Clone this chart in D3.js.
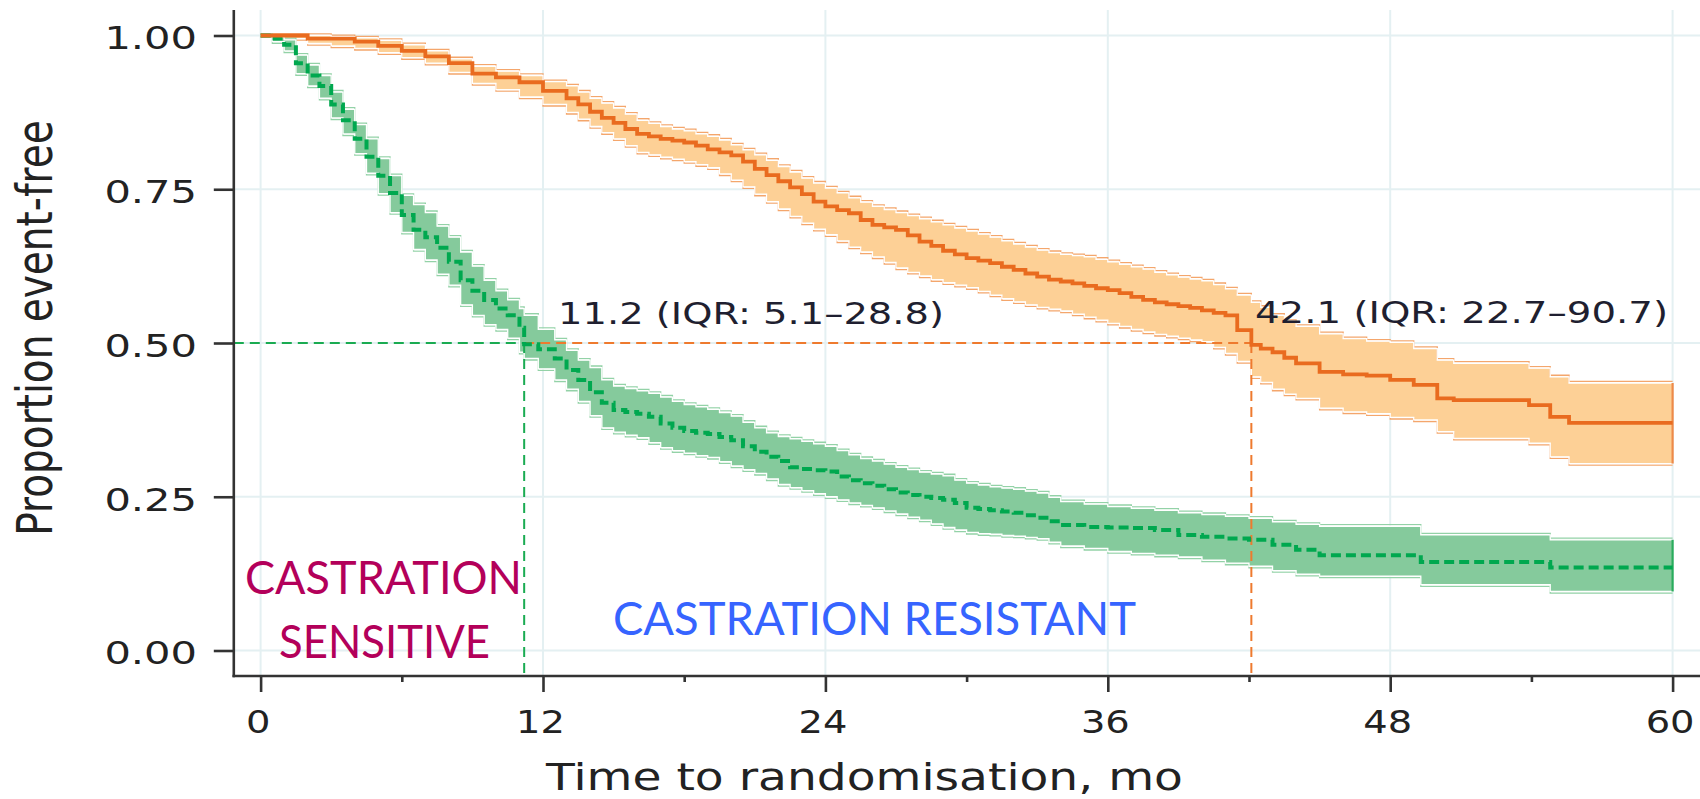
<!DOCTYPE html>
<html>
<head>
<meta charset="utf-8">
<script src="https://cdn.jsdelivr.net/npm/d3@7"></script>
<style>
  html, body { margin: 0; padding: 0; background: #fff; overflow: hidden; }
  svg { display: block; }
</style>
</head>
<body>
<svg id="chart" width="1700" height="799"></svg>
<script>
// Kaplan–Meier curves (proportion event-free) with 95% bands, time in months.

// Group with median 11.2 months (green, dashed)
const greenTime = [
  0, 0.5, 1, 1.5, 2, 2.5, 3, 3.5, 4, 4.5, 5, 5.5, 6, 6.5, 7, 7.5, 8, 8.5, 9, 9.5, 10, 10.5, 11,
  11.2, 11.8, 12.5, 13, 13.5, 14, 14.5, 15, 15.5,
  16, 16.5, 17, 17.5, 18, 18.5, 19, 19.5, 20, 20.5, 21, 21.5, 22, 22.5, 23, 23.5, 24, 24.5, 25,
  25.5, 26, 26.5, 27, 27.5, 28, 28.5, 29, 29.5, 30, 30.5, 31, 31.5, 32, 32.5, 33, 33.5, 34,
  35, 36, 37, 38, 39, 40, 41, 42, 43, 44, 45,
  49.3, 54.8, 60];
const greenEst = [
  1.000, 0.995, 0.985, 0.955, 0.935, 0.918, 0.888, 0.862, 0.832, 0.803, 0.772, 0.744, 0.708, 0.684, 0.672, 0.655, 0.632, 0.602, 0.585, 0.570, 0.556, 0.545, 0.525,
  0.498, 0.490, 0.475, 0.456, 0.440, 0.420, 0.403, 0.391, 0.388,
  0.385, 0.380, 0.369, 0.362, 0.357, 0.354, 0.352, 0.347, 0.342, 0.332, 0.323, 0.315, 0.308, 0.298, 0.295, 0.293, 0.291, 0.283, 0.277,
  0.272, 0.268, 0.262, 0.257, 0.253, 0.250, 0.248, 0.245, 0.240, 0.232, 0.230, 0.228, 0.226, 0.224, 0.220, 0.216, 0.210, 0.204,
  0.201, 0.200, 0.199, 0.196, 0.188, 0.185, 0.182, 0.180, 0.172, 0.164, 0.155,
  0.144, 0.135, 0.135];
const greenHi = [
  1.000, 0.998, 0.993, 0.968, 0.952, 0.935, 0.908, 0.880, 0.855, 0.832, 0.800, 0.772, 0.740, 0.725, 0.712, 0.690, 0.672, 0.648, 0.625, 0.602, 0.585, 0.570, 0.556,
  0.545, 0.522, 0.505, 0.488, 0.472, 0.460, 0.440, 0.430, 0.426,
  0.422, 0.418, 0.412, 0.405, 0.400, 0.396, 0.392, 0.387, 0.381, 0.371, 0.362, 0.354, 0.348, 0.344, 0.340, 0.336, 0.332, 0.325, 0.318,
  0.312, 0.308, 0.303, 0.298, 0.294, 0.290, 0.287, 0.284, 0.277, 0.272, 0.269, 0.266, 0.264, 0.262, 0.259, 0.256, 0.249, 0.242,
  0.238, 0.234, 0.231, 0.228, 0.224, 0.221, 0.218, 0.215, 0.209, 0.205, 0.202,
  0.188, 0.180, 0.180];
const greenLo = [
  1.000, 0.990, 0.975, 0.938, 0.918, 0.898, 0.866, 0.840, 0.808, 0.776, 0.743, 0.712, 0.680, 0.652, 0.635, 0.612, 0.594, 0.562, 0.545, 0.530, 0.522, 0.508, 0.485,
  0.475, 0.458, 0.440, 0.425, 0.405, 0.382, 0.362, 0.355, 0.350,
  0.346, 0.338, 0.330, 0.325, 0.321, 0.317, 0.314, 0.307, 0.300, 0.294, 0.288, 0.279, 0.270, 0.265, 0.260, 0.255, 0.250, 0.245, 0.240,
  0.236, 0.232, 0.227, 0.222, 0.217, 0.212, 0.206, 0.200, 0.196, 0.192, 0.190, 0.189, 0.187, 0.186, 0.184, 0.182, 0.176, 0.170,
  0.166, 0.161, 0.158, 0.155, 0.152, 0.147, 0.142, 0.137, 0.130, 0.124, 0.121,
  0.107, 0.096, 0.096];

// Group with median 42.1 months (orange, solid)
const orangeTime = [
  0, 1, 2, 3, 4, 5, 6, 7, 8, 9, 10, 11, 12,
  13, 13.5, 14, 14.5, 15, 15.5, 16, 16.5, 17, 17.5, 18, 18.5, 19, 19.5, 20, 20.5, 21, 21.5, 22, 22.5,
  23, 23.5, 24, 24.5, 25, 25.5, 26, 26.5, 27, 27.5, 28, 28.5, 29, 29.5, 30, 30.5, 31, 31.5, 32, 32.5,
  33, 33.5, 34, 34.5, 35, 35.5, 36, 36.5, 37, 37.5, 38, 38.5, 39, 39.5, 40, 40.5, 41,
  41.5, 42.1, 42.5, 43, 43.5, 44, 45, 46, 47, 48, 49, 50, 50.7, 53.9, 54.8, 55.6, 60];
const orangeEst = [
  1.000, 1.000, 0.995, 0.995, 0.990, 0.983, 0.975, 0.966, 0.955, 0.938, 0.932, 0.924, 0.910,
  0.898, 0.888, 0.876, 0.866, 0.858, 0.848, 0.840, 0.836, 0.832, 0.829, 0.826, 0.821, 0.815, 0.810, 0.805, 0.795, 0.783, 0.773, 0.763, 0.753,
  0.742, 0.730, 0.722, 0.716, 0.711, 0.700, 0.692, 0.688, 0.684, 0.675, 0.665, 0.658, 0.650, 0.644, 0.638, 0.634, 0.630, 0.624, 0.619, 0.613,
  0.608, 0.603, 0.600, 0.597, 0.593, 0.589, 0.586, 0.581, 0.575, 0.570, 0.566, 0.563, 0.560, 0.557, 0.553, 0.549, 0.545,
  0.521, 0.497, 0.491, 0.485, 0.476, 0.467, 0.453, 0.449, 0.447, 0.440, 0.432, 0.410, 0.407, 0.399, 0.380, 0.370, 0.370];
const orangeHi = [
  1.000, 1.000, 1.000, 0.998, 0.996, 0.992, 0.985, 0.975, 0.962, 0.950, 0.942, 0.935, 0.925,
  0.918, 0.908, 0.898, 0.890, 0.882, 0.872, 0.862, 0.857, 0.852, 0.848, 0.845, 0.840, 0.836, 0.830, 0.822, 0.814, 0.806, 0.797, 0.787, 0.778,
  0.768, 0.760, 0.752, 0.744, 0.736, 0.729, 0.722, 0.717, 0.712, 0.707, 0.702, 0.697, 0.692, 0.687, 0.682, 0.677, 0.672, 0.666, 0.661, 0.656,
  0.651, 0.647, 0.644, 0.642, 0.640, 0.636, 0.632, 0.628, 0.624, 0.620, 0.615, 0.611, 0.607, 0.604, 0.601, 0.595, 0.588,
  0.578, 0.566, 0.558, 0.545, 0.535, 0.527, 0.515, 0.507, 0.503, 0.501, 0.491, 0.472, 0.467, 0.459, 0.445, 0.435, 0.435];
const orangeLo = [
  1.000, 0.995, 0.987, 0.983, 0.979, 0.972, 0.964, 0.955, 0.940, 0.922, 0.912, 0.900, 0.888,
  0.875, 0.864, 0.852, 0.842, 0.832, 0.821, 0.810, 0.806, 0.802, 0.799, 0.795, 0.790, 0.785, 0.775, 0.765, 0.754, 0.742, 0.730, 0.718, 0.706,
  0.695, 0.685, 0.676, 0.666, 0.656, 0.648, 0.640, 0.631, 0.622, 0.615, 0.609, 0.603, 0.598, 0.594, 0.590, 0.584, 0.578, 0.572, 0.567, 0.562,
  0.558, 0.555, 0.552, 0.547, 0.542, 0.537, 0.532, 0.527, 0.522, 0.518, 0.514, 0.511, 0.508, 0.505, 0.502, 0.493, 0.483,
  0.470, 0.445, 0.436, 0.425, 0.417, 0.410, 0.394, 0.388, 0.385, 0.379, 0.375, 0.356, 0.345, 0.337, 0.315, 0.304, 0.304];

// Medians and their annotations
const medianTimes = [11.2, 42.1];
const medianLabels = ["11.2 (IQR: 5.1\u201328.8)", "42.1 (IQR: 22.7\u201390.7)"];

// Axis ticks
const xTicks = [0, 12, 24, 36, 48, 60];
const xMinorTicks = [6, 18, 30, 42, 54];
const yTicks = [0, 0.25, 0.5, 0.75, 1];

const xTitle = "Time to randomisation, mo";
const yTitle = "Proportion event-free";

// ---------------------------------------------------------------
const svg = d3.select("#chart");
const FONT = "'DejaVu Sans', Verdana, sans-serif";

const axisLeftX = 233.8, axisBottomY = 676, plotTop = 10, plotRight = 1700;
const x = d3.scaleLinear().domain([0, 60]).range([260.6, 1672.6]);
const y = d3.scaleLinear().domain([0, 1]).range([650.5, 35.5]);

// horizontally widen a text element by factor k
function widen(sel, k) {
  sel.each(function () {
    const L = this.getComputedTextLength();
    d3.select(this).attr("textLength", L * k).attr("lengthAdjust", "spacingAndGlyphs");
  });
}

// grid
const grid = svg.append("g").attr("stroke", "#e4f0f2").attr("stroke-width", 2);
grid.selectAll("line.gx").data(xTicks).join("line")
  .attr("x1", d => x(d)).attr("x2", d => x(d))
  .attr("y1", plotTop).attr("y2", axisBottomY);
grid.selectAll("line.gy").data(yTicks).join("line")
  .attr("x1", axisLeftX).attr("x2", plotRight)
  .attr("y1", d => y(d)).attr("y2", d => y(d));

const groups = [
  { time: orangeTime, est: orangeEst, lo: orangeLo, hi: orangeHi,
    line: "#e96b1f", width: 3.8, fill: "#fdd096", edge: "#f4a66c", end: "#ee8a48", dash: null },
  { time: greenTime, est: greenEst, lo: greenLo, hi: greenHi,
    line: "#00a84f", width: 4, fill: "#85ca9c", edge: "#93d2a7", end: "#2aac5c", dash: "10,5" }
];
groups.forEach(g => {
  g.rows = g.time.map((t, i) => ({ t, e: g.est[i], lo: g.lo[i], hi: g.hi[i] }));
});

const area = d3.area().curve(d3.curveStepAfter)
  .x(d => x(d.t)).y0(d => y(d.lo)).y1(d => y(d.hi));
const lineOf = key => d3.line().curve(d3.curveStepAfter).x(d => x(d.t)).y(d => y(d[key]));

// bands
const bands = svg.append("g");
groups.forEach(g => {
  bands.append("path").attr("d", area(g.rows)).attr("fill", g.fill);
  // faint outer rim of each bound, then a thin white line on the bound itself
  bands.append("path").attr("d", lineOf("hi")(g.rows)).attr("fill", "none")
    .attr("stroke", g.edge).attr("stroke-width", 1.3).attr("transform", "translate(0,-1.6)");
  bands.append("path").attr("d", lineOf("lo")(g.rows)).attr("fill", "none")
    .attr("stroke", g.edge).attr("stroke-width", 1.3).attr("transform", "translate(0,1.6)");
  ["hi", "lo"].forEach(k => bands.append("path").attr("d", lineOf(k)(g.rows)).attr("fill", "none")
    .attr("stroke", "#fff").attr("stroke-width", 1.3));
  const last = g.rows[g.rows.length - 1];
  bands.append("line")
    .attr("x1", x(last.t)).attr("x2", x(last.t))
    .attr("y1", y(last.hi)).attr("y2", y(last.lo))
    .attr("stroke", g.end).attr("stroke-width", 2.2);
});

// median reference lines
const med = svg.append("g").attr("fill", "none").attr("stroke-width", 2).attr("stroke-dasharray", "10,6");
const [mG, mO] = medianTimes;
med.append("line").attr("x1", x(mG)).attr("x2", x(mO)).attr("y1", y(0.5)).attr("y2", y(0.5))
  .attr("stroke", "#ee7a2e");
med.append("line").attr("x1", x(mO)).attr("x2", x(mO)).attr("y1", y(0.5)).attr("y2", axisBottomY)
  .attr("stroke", "#ee7a2e");
med.append("line").attr("x1", axisLeftX).attr("x2", x(mG)).attr("y1", y(0.5)).attr("y2", y(0.5))
  .attr("stroke", "#1aab52");
med.append("line").attr("x1", x(mG)).attr("x2", x(mG)).attr("y1", y(0.5)).attr("y2", axisBottomY)
  .attr("stroke", "#1aab52");

// estimate lines
const lines = svg.append("g");
[groups[1], groups[0]].forEach(g => {
  lines.append("path").attr("d", lineOf("e")(g.rows)).attr("fill", "none")
    .attr("stroke", g.line).attr("stroke-width", g.width)
    .attr("stroke-dasharray", g.dash);
});

// axes
const xAxis = svg.append("g").attr("transform", `translate(0,${axisBottomY})`)
  .call(d3.axisBottom(x).tickValues(xTicks).tickSize(16).tickPadding(18).tickFormat(d3.format("d")));
xAxis.select(".domain").remove();
xAxis.selectAll(".tick line").attr("stroke", "#333").attr("stroke-width", 2.6);
xAxis.selectAll(".tick text").attr("font-family", FONT).attr("font-size", 32)
  .attr("fill", "#222").attr("x", -3).call(widen, 1.2);

const xMinor = svg.append("g").attr("transform", `translate(0,${axisBottomY})`)
  .call(d3.axisBottom(x).tickValues(xMinorTicks).tickSize(6).tickFormat(""));
xMinor.select(".domain").remove();
xMinor.selectAll(".tick line").attr("stroke", "#333").attr("stroke-width", 2.6);

const yAxis = svg.append("g").attr("transform", `translate(${axisLeftX},0)`)
  .call(d3.axisLeft(y).tickValues(yTicks).tickSize(20).tickPadding(16.8).tickFormat(d3.format(".2f")));
yAxis.select(".domain").remove();
yAxis.selectAll(".tick line").attr("stroke", "#333").attr("stroke-width", 2.6);
yAxis.selectAll(".tick text").attr("font-family", FONT).attr("font-size", 32)
  .attr("fill", "#222").attr("dy", "0.42em").call(widen, 1.3);

// axis lines
svg.append("line").attr("x1", axisLeftX).attr("x2", axisLeftX).attr("y1", plotTop).attr("y2", axisBottomY + 1.3)
  .attr("stroke", "#333").attr("stroke-width", 2.6);
svg.append("line").attr("x1", axisLeftX - 1.3).attr("x2", plotRight).attr("y1", axisBottomY).attr("y2", axisBottomY)
  .attr("stroke", "#333").attr("stroke-width", 2.6);

// axis titles
svg.append("text").text(xTitle)
  .attr("x", 864.5).attr("y", 790).attr("text-anchor", "middle")
  .attr("font-family", FONT).attr("font-size", 38).attr("fill", "#222")
  .call(widen, 1.24);
svg.append("text").text(yTitle)
  .attr("transform", "translate(52,328) scale(1.27,1) rotate(-90)")
  .attr("text-anchor", "middle")
  .attr("font-family", FONT).attr("font-size", 39).attr("fill", "#222");

// median annotations
const labelPos = [{ x: 558, y: 323.5, len: 386 }, { x: 1255, y: 322.5, len: 413 }];
svg.selectAll("text.med").data(medianLabels).join("text")
  .attr("class", "med")
  .text(d => d)
  .attr("x", (d, i) => labelPos[i].x).attr("y", (d, i) => labelPos[i].y)
  .attr("textLength", (d, i) => labelPos[i].len).attr("lengthAdjust", "spacingAndGlyphs")
  .attr("font-family", FONT).attr("font-size", 30).attr("fill", "#1f1f30");

// region labels
const regionFont = "Lato, 'Open Sans', sans-serif";
const regionLabels = [
  { text: "CASTRATION", x: 245, y: 594, len: 277, color: "#b3005a" },
  { text: "SENSITIVE", x: 279, y: 658, len: 211, color: "#b3005a" },
  { text: "CASTRATION RESISTANT", x: 613, y: 635, len: 523, color: "#3664ff" }
];
svg.selectAll("text.region").data(regionLabels).join("text")
  .attr("class", "region")
  .text(d => d.text)
  .attr("x", d => d.x).attr("y", d => d.y)
  .attr("textLength", d => d.len).attr("lengthAdjust", "spacingAndGlyphs")
  .attr("font-family", regionFont).attr("font-size", 47).attr("fill", d => d.color);
</script>
</body>
</html>
